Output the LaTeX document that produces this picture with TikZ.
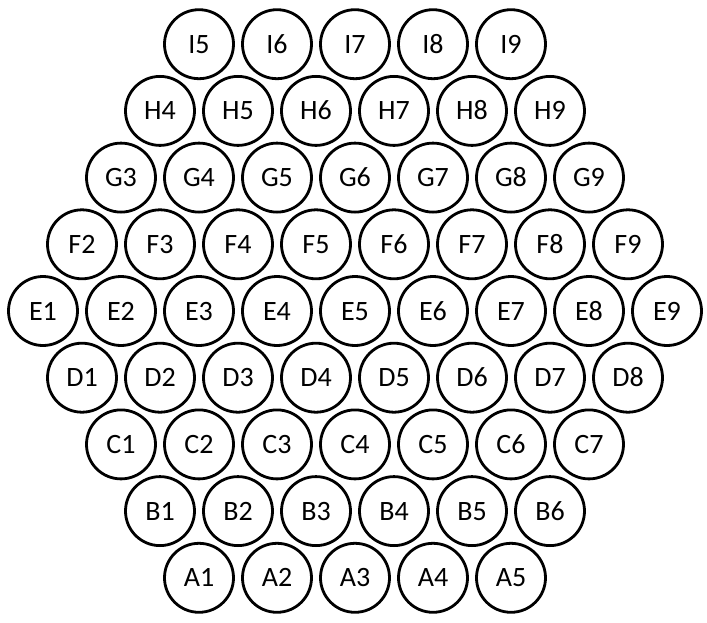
\documentclass[tikz,border=0pt]{standalone}
\usepackage{fontspec}
\setmainfont{Carlito}
\begin{document}
\begin{tikzpicture}
    [%%%%%%%%%%%%%%%%%%%%%%%%%%%%%%
        x=78pt, y=66.7pt,
        cell/.style={circle,draw=black,line width=2.8pt,minimum size=69pt,inner sep=0pt,
                     text height=18pt,text depth=0pt,
                     font=\fontsize{28}{28}\selectfont},
    ]%%%%%%%%%%%%%%%%%%%%%%%%%%%%%%
\useasboundingbox (-355pt,-311pt) rectangle (352pt,311pt);
\node[cell] (I5) at (-2.00,+4.00) {I5};
\node[cell] (I6) at (-1.00,+4.00) {I6};
\node[cell] (I7) at (+0.00,+4.00) {I7};
\node[cell] (I8) at (+1.00,+4.00) {I8};
\node[cell] (I9) at (+2.00,+4.00) {I9};
\node[cell] (H4) at (-2.50,+3.00) {H4};
\node[cell] (H5) at (-1.50,+3.00) {H5};
\node[cell] (H6) at (-0.50,+3.00) {H6};
\node[cell] (H7) at (+0.50,+3.00) {H7};
\node[cell] (H8) at (+1.50,+3.00) {H8};
\node[cell] (H9) at (+2.50,+3.00) {H9};
\node[cell] (G3) at (-3.00,+2.00) {G3};
\node[cell] (G4) at (-2.00,+2.00) {G4};
\node[cell] (G5) at (-1.00,+2.00) {G5};
\node[cell] (G6) at (+0.00,+2.00) {G6};
\node[cell] (G7) at (+1.00,+2.00) {G7};
\node[cell] (G8) at (+2.00,+2.00) {G8};
\node[cell] (G9) at (+3.00,+2.00) {G9};
\node[cell] (F2) at (-3.50,+1.00) {F2};
\node[cell] (F3) at (-2.50,+1.00) {F3};
\node[cell] (F4) at (-1.50,+1.00) {F4};
\node[cell] (F5) at (-0.50,+1.00) {F5};
\node[cell] (F6) at (+0.50,+1.00) {F6};
\node[cell] (F7) at (+1.50,+1.00) {F7};
\node[cell] (F8) at (+2.50,+1.00) {F8};
\node[cell] (F9) at (+3.50,+1.00) {F9};
\node[cell] (E1) at (-4.00,+0.00) {E1};
\node[cell] (E2) at (-3.00,+0.00) {E2};
\node[cell] (E3) at (-2.00,+0.00) {E3};
\node[cell] (E4) at (-1.00,+0.00) {E4};
\node[cell] (E5) at (+0.00,+0.00) {E5};
\node[cell] (E6) at (+1.00,+0.00) {E6};
\node[cell] (E7) at (+2.00,+0.00) {E7};
\node[cell] (E8) at (+3.00,+0.00) {E8};
\node[cell] (E9) at (+4.00,+0.00) {E9};
\node[cell] (D1) at (-3.50,-1.00) {D1};
\node[cell] (D2) at (-2.50,-1.00) {D2};
\node[cell] (D3) at (-1.50,-1.00) {D3};
\node[cell] (D4) at (-0.50,-1.00) {D4};
\node[cell] (D5) at (+0.50,-1.00) {D5};
\node[cell] (D6) at (+1.50,-1.00) {D6};
\node[cell] (D7) at (+2.50,-1.00) {D7};
\node[cell] (D8) at (+3.50,-1.00) {D8};
\node[cell] (C1) at (-3.00,-2.00) {C1};
\node[cell] (C2) at (-2.00,-2.00) {C2};
\node[cell] (C3) at (-1.00,-2.00) {C3};
\node[cell] (C4) at (+0.00,-2.00) {C4};
\node[cell] (C5) at (+1.00,-2.00) {C5};
\node[cell] (C6) at (+2.00,-2.00) {C6};
\node[cell] (C7) at (+3.00,-2.00) {C7};
\node[cell] (B1) at (-2.50,-3.00) {B1};
\node[cell] (B2) at (-1.50,-3.00) {B2};
\node[cell] (B3) at (-0.50,-3.00) {B3};
\node[cell] (B4) at (+0.50,-3.00) {B4};
\node[cell] (B5) at (+1.50,-3.00) {B5};
\node[cell] (B6) at (+2.50,-3.00) {B6};
\node[cell] (A1) at (-2.00,-4.00) {A1};
\node[cell] (A2) at (-1.00,-4.00) {A2};
\node[cell] (A3) at (+0.00,-4.00) {A3};
\node[cell] (A4) at (+1.00,-4.00) {A4};
\node[cell] (A5) at (+2.00,-4.00) {A5};
\end{tikzpicture}
\end{document}
